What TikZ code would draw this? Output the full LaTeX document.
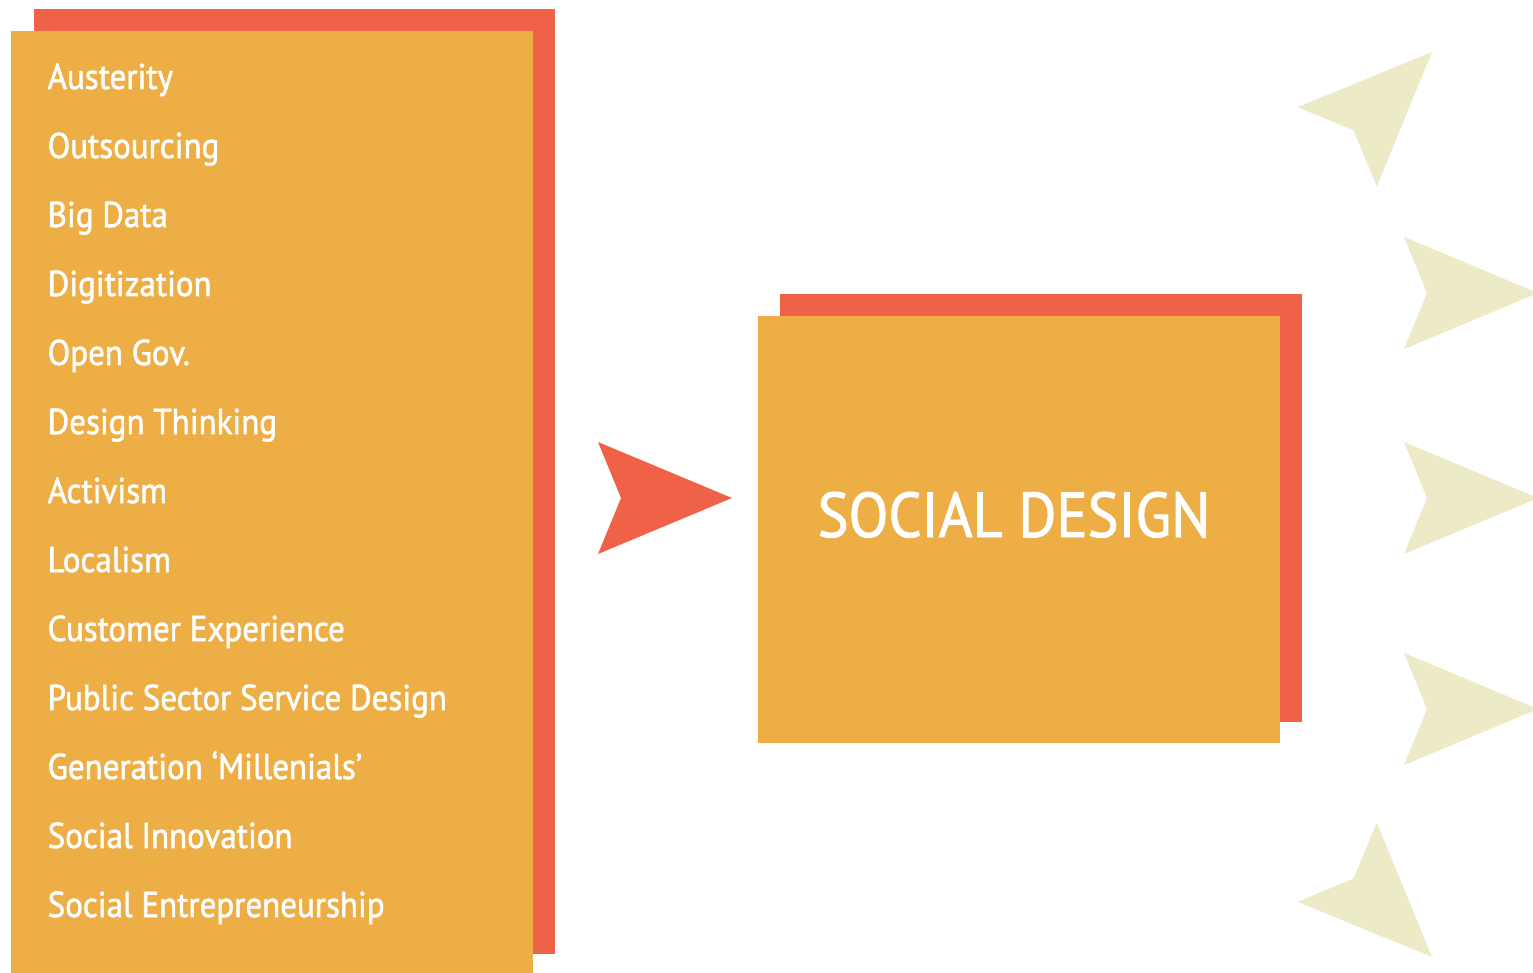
\documentclass[tikz,border=0pt]{standalone}
\usepackage{fontspec}
\setmainfont[FakeStretch=0.92,FakeBold=1.5]{PT Sans}
\usepackage{xcolor}
\definecolor{sdorange}{RGB}{237,174,69}
\definecolor{sdred}{RGB}{240,98,72}
\definecolor{sdpale}{RGB}{236,234,199}

\begin{document}
\begin{tikzpicture}[x=0.01cm,y=-0.01cm,
	chevron/.pic={
		\fill (0,0) -- (-134,-56) -- (-111,0) -- (-134,56) -- cycle;
	}]
	\useasboundingbox (0,0) rectangle (1533,973);
	\tikzstyle{shadowbox} = [fill=sdred,inner sep=0pt,anchor=north west]
	\tikzstyle{mainbox} = [fill=sdorange,inner sep=0pt,anchor=north west]
	\tikzstyle{item} = [text=white,font=\fontsize{10.2}{12}\selectfont,anchor=base west,inner sep=0pt]
	\tikzstyle{title} = [text=white,font=\fontsize{18}{20}\selectfont,anchor=base,inner sep=0pt]

	% trends
	\node[shadowbox,minimum width=5.21cm,minimum height=9.45cm] (listback) at (33,8) {};
	\node[mainbox,minimum width=5.22cm,minimum height=9.43cm] (list) at (10,30) {};
	\node[item] (t1) at (47,89) {Austerity};
	\node[item] (t2) at (47,158) {Outsourcing};
	\node[item] (t3) at (47,227) {Big Data};
	\node[item] (t4) at (47,296) {Digitization};
	\node[item] (t5) at (47,365) {Open Gov.};
	\node[item] (t6) at (47,434) {Design Thinking};
	\node[item] (t7) at (47,503) {Activism};
	\node[item] (t8) at (47,572) {Localism};
	\node[item] (t9) at (47,641) {Customer Experience};
	\node[item] (t10) at (47,710) {Public Sector Service Design};
	\node[item] (t11) at (47,779) {Generation ‘Millenials’};
	\node[item] (t12) at (47,848) {Social Innovation};
	\node[item] (t13) at (47,917) {Social Entrepreneurship};

	% social design
	\node[shadowbox,minimum width=5.22cm,minimum height=4.28cm] (boxback) at (779,293) {};
	\node[mainbox,minimum width=5.22cm,minimum height=4.27cm] (box) at (757,315) {};
	\node[title] (sd) at (1014,537) {SOCIAL DESIGN};

	% arrows
	\pic[sdred] at (732,498) {chevron};
	\pic[sdpale,rotate=45] at (1432,52) {chevron};
	\pic[sdpale] at (1538,293) {chevron};
	\pic[sdpale] at (1538,498) {chevron};
	\pic[sdpale] at (1538,709) {chevron};
	\pic[sdpale,rotate=-45] at (1432,957) {chevron};
\end{tikzpicture}
\end{document}
